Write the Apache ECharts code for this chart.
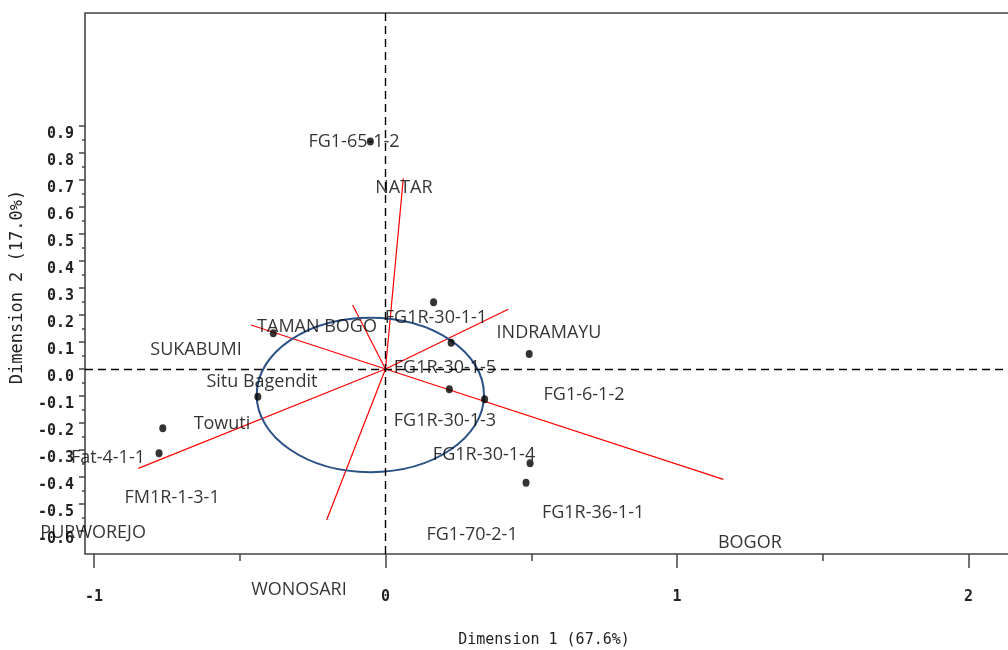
<!DOCTYPE html>
<html>
<head>
<meta charset="utf-8">
<script src="https://cdn.jsdelivr.net/npm/echarts@6/dist/echarts.min.js"></script>
<style>
  html, body { margin: 0; padding: 0; background: #fff; }
  #chart { width: 1008px; height: 650px; }
</style>
</head>
<body>
<div id="chart"></div>
<script>
// genotype points
const dotX = [-0.052, 0.165, -0.385, 0.225, 0.493, 0.219, 0.340, -0.438, -0.764, -0.777, 0.496, 0.482];
const dotY = [0.843, 0.247, 0.132, 0.097, 0.056, -0.075, -0.112, -0.103, -0.219, -0.312, -0.349, -0.421];

// environment vectors (from origin)
const vecX = [0.061, -0.113, 0.421, 1.159, -0.461, -0.848, -0.202];
const vecY = [0.706, 0.237, 0.221, -0.409, 0.163, -0.368, -0.559];

// text labels and where they sit
const labelNames = ['FG1-65-1-2', 'NATAR', 'TAMAN BOGO', 'FG1R-30-1-1', 'INDRAMAYU', 'SUKABUMI',
  'FG1R-30-1-5', 'Situ Bagendit', 'FG1-6-1-2', 'Towuti', 'FG1R-30-1-3', 'Fat-4-1-1',
  'FG1R-30-1-4', 'FM1R-1-3-1', 'FG1R-36-1-1', 'PURWOREJO', 'FG1-70-2-1', 'BOGOR', 'WONOSARI'];
const labelX = [-0.108, 0.063, -0.235, 0.173, 0.561, -0.650, 0.204, -0.424, 0.681, -0.561, 0.204, -0.952,
  0.338, -0.732, 0.712, -1.003, 0.297, 1.250, -0.297];
const labelY = [0.841, 0.670, 0.156, 0.189, 0.133, 0.070, 0.004, -0.048, -0.096, -0.204, -0.193, -0.330,
  -0.319, -0.478, -0.533, -0.607, -0.615, -0.644, -0.819];

// confidence ellipse
const ellipseCenter = [-0.052, -0.096];
const ellipseRadius = [0.390, 0.286];

// ticks
const xTicks = [-1, 0, 1, 2];
const xMinorTicks = [-0.5, 0.5, 1.5];
const yTicks = [-0.6, -0.5, -0.4, -0.3, -0.2, -0.1, 0, 0.1, 0.2, 0.3, 0.4, 0.5, 0.6, 0.7, 0.8, 0.9];
const yMinorTicks = [-0.55, -0.45, -0.35, -0.25, -0.15, -0.05, 0.05, 0.15, 0.25, 0.35, 0.45, 0.55, 0.65, 0.75, 0.85];

const xMin = -1.0309, xMax = 2.1595;
const yMin = -0.6852, yMax = 1.3185;

const chart = echarts.init(document.getElementById('chart'));

const tickFont = { fontFamily: 'DejaVu Sans Mono', fontWeight: 'bold', fontSize: 15, color: '#222' };
const noLine = { show: false, onZero: false };

const vecSeries = vecX.map((x, i) => ({
  type: 'line',
  data: [[0, 0], [x, vecY[i]]],
  symbol: 'none',
  lineStyle: { color: '#ff0000', width: 1.2 },
  silent: true,
  z: 3
}));

const option = {
  animation: false,
  grid: {
    left: 85, top: 13, width: 930, height: 541,
    show: true, borderColor: '#444', borderWidth: 1.6, backgroundColor: 'transparent',
    outerBoundsMode: 'none'
  },
  xAxis: [{
    type: 'value', min: xMin, max: xMax, position: 'bottom',
    axisLine: noLine, splitLine: { show: false },
    axisTick: { show: true, length: 14, lineStyle: { color: '#444', width: 1.5 }, customValues: xTicks },
    axisLabel: Object.assign({ customValues: xTicks, margin: 36, formatter: v => String(v) }, tickFont)
  }, {
    type: 'value', min: xMin, max: xMax, position: 'bottom',
    axisLine: noLine, splitLine: { show: false }, axisLabel: { show: false },
    axisTick: { show: true, length: 7, lineStyle: { color: '#444', width: 1.5 }, customValues: xMinorTicks }
  }],
  yAxis: [{
    type: 'value', min: yMin, max: yMax, position: 'left',
    axisLine: noLine, splitLine: { show: false },
    axisTick: { show: true, length: 6, lineStyle: { color: '#444', width: 1.5 }, customValues: yTicks },
    axisLabel: Object.assign({ customValues: yTicks, margin: 11, verticalAlign: 'top', lineHeight: 16,
      formatter: v => v.toFixed(1) }, tickFont)
  }, {
    type: 'value', min: yMin, max: yMax, position: 'left',
    axisLine: noLine, splitLine: { show: false }, axisLabel: { show: false },
    axisTick: { show: true, length: 3, lineStyle: { color: '#444', width: 1.5 }, customValues: yMinorTicks }
  }],
  graphic: [{
    type: 'text', x: 544, y: 640,
    style: { text: 'Dimension 1 (67.6%)', font: '15px "DejaVu Sans Mono"', fill: '#222',
      align: 'center', verticalAlign: 'middle' }
  }, {
    type: 'text', x: 18, y: 287, rotation: Math.PI / 2,
    style: { text: 'Dimension 2 (17.0%)', font: '17px "DejaVu Sans Mono"', fill: '#222',
      align: 'center', verticalAlign: 'middle' }
  }],
  series: [
    {
      type: 'line', data: [], silent: true, symbol: 'none',
      markLine: {
        silent: true, symbol: 'none', label: { show: false },
        lineStyle: { color: '#000', type: [8, 5], width: 1.4 },
        data: [{ xAxis: 0 }, { yAxis: 0 }]
      }
    },
    ...vecSeries,
    {
      type: 'custom',
      data: [[ellipseCenter[0], ellipseCenter[1], ellipseRadius[0], ellipseRadius[1]]],
      encode: { x: 0, y: 1 },
      silent: true,
      z: 4,
      renderItem: function (params, api) {
        const c = api.coord([api.value(0), api.value(1)]);
        const s = api.size([api.value(2), api.value(3)]);
        return {
          type: 'ellipse',
          shape: { cx: c[0], cy: c[1], rx: s[0], ry: s[1] },
          style: { fill: 'none', stroke: '#2a5286', lineWidth: 2 }
        };
      }
    },
    {
      type: 'scatter',
      data: dotX.map((x, i) => [x, dotY[i]]),
      symbol: 'circle', symbolSize: [7, 8],
      itemStyle: { color: '#000' },
      z: 5
    },
    {
      type: 'scatter',
      clip: false,
      data: labelNames.map((n, i) => ({ name: n, value: [labelX[i], labelY[i]] })),
      symbolSize: 1,
      itemStyle: { color: 'rgba(0,0,0,0)' },
      label: {
        show: true, position: 'inside', formatter: p => p.name,
        fontFamily: 'Open Sans', fontWeight: 500, fontSize: 18, color: '#000'
      },
      silent: true,
      z: 6
    }
  ]
};

chart.setOption(option);
</script>
</body>
</html>
